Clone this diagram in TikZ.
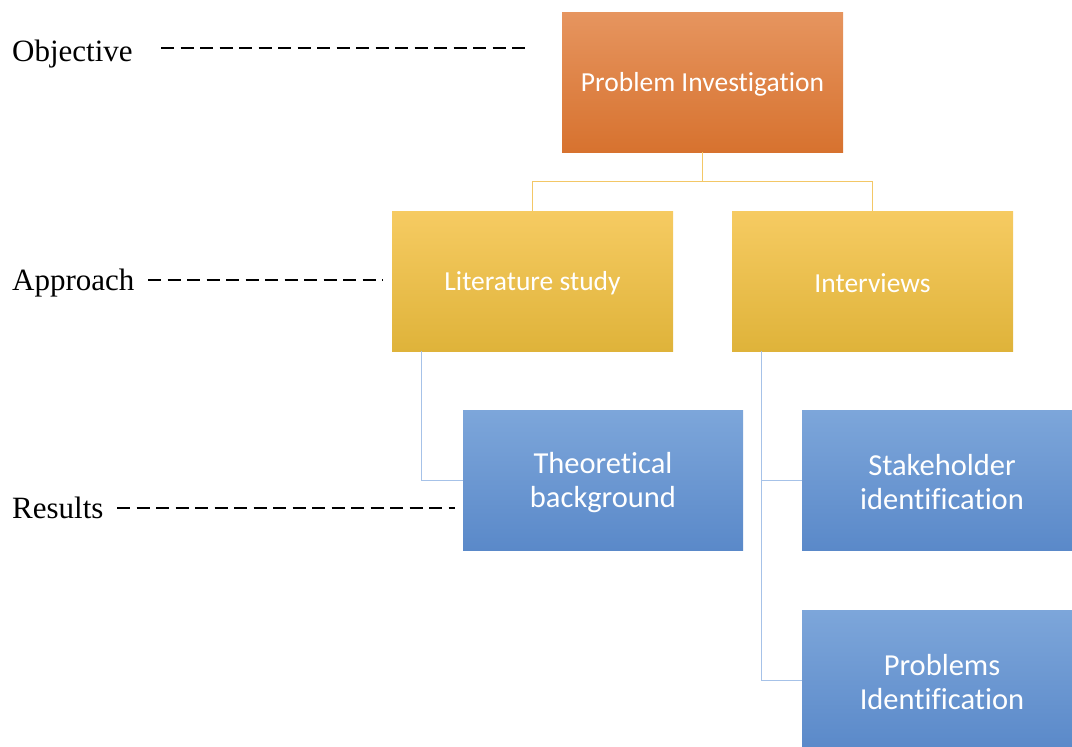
\documentclass[tikz,border=0pt]{standalone}
\usepackage{fontspec}
\setmainfont{Liberation Serif}
\newfontfamily\boxfont[Ligatures=NoCommon]{Carlito}
\usetikzlibrary{calc}
\definecolor{orTop}{HTML}{E6955F}
\definecolor{orBot}{HTML}{D7722F}
\definecolor{yeTop}{HTML}{F6CB62}
\definecolor{yeBot}{HTML}{DFB33A}
\definecolor{blTop}{HTML}{7DA6DA}
\definecolor{blBot}{HTML}{5A89C9}
\definecolor{yeLine}{HTML}{F3C766}
\definecolor{blLine}{HTML}{A6C2E8}
\tikzset{
  card/.style={minimum width=281pt, minimum height=140pt, inner sep=0pt},
  cardtext/.style={text=white, align=center, inner sep=0pt, yshift=-2.5pt,
    font=\boxfont\fontsize{27.5}{31}\selectfont},
  bigcardtext/.style={cardtext, font=\boxfont\fontsize{30.5}{34}\selectfont},
  orangecard/.style={card, top color=orTop, bottom color=orBot},
  yellowcard/.style={card, top color=yeTop, bottom color=yeBot},
  bluecard/.style={card, minimum width=280pt, top color=blTop, bottom color=blBot},
  levellabel/.style={anchor=base west, inner sep=0pt, font=\fontsize{31}{34}\selectfont},
  leveldash/.style={black, line width=1.3pt, dash pattern=on 13pt off 6.5pt},
  ylink/.style={yeLine, line width=1pt},
  blink/.style={blLine, line width=1pt}
}
\begin{document}
\begin{tikzpicture}[x=1pt, y=-1pt]
  \useasboundingbox (0,0) rectangle (1072,747);

  % boxes, with their captions set just below the geometric centre
  \node[orangecard, label={[cardtext]center:Problem Investigation}] (pi) at (702.5,82) {};
  \node[yellowcard, label={[cardtext]center:Literature study}] (lit) at (532.5,281) {};
  \node[yellowcard, label={[cardtext]center:Interviews}] (int) at (872.5,281) {};
  \node[bluecard, label={[bigcardtext]center:Theoretical\\background}] (theo) at (603,480) {};
  \node[bluecard, label={[bigcardtext]center:Stakeholder\\identification}] (stake) at (942,480) {};
  \node[bluecard, label={[bigcardtext]center:Problems\\Identification}] (prob) at (942,680) {};

  % tree connectors
  \coordinate (split) at (702.5,181);
  \draw[ylink] (pi.south) -- (split) -| (lit.north);
  \draw[ylink] (split) -| (int.north);
  \draw[blink] ([xshift=30pt]lit.south west) |- (theo.west);
  \draw[blink] ([xshift=30pt]int.south west) |- (stake.west);
  \draw[blink] ([xshift=30pt]int.south west) |- (prob.west);

  % level labels with their dashed guide lines
  \node[levellabel] (obj) at (12,61) {Objective};
  \node[levellabel] (app) at (12,290) {Approach};
  \node[levellabel] (res) at (12,518) {Results};
  \coordinate (objend) at (528,48);
  \coordinate (append) at (383,280);
  \coordinate (resend) at (455,508);
  \draw[leveldash] (objend -| 161,0) -- (objend);
  \draw[leveldash] (append -| 148,0) -- (append);
  \draw[leveldash] (resend -| 117,0) -- (resend);
\end{tikzpicture}
\end{document}
